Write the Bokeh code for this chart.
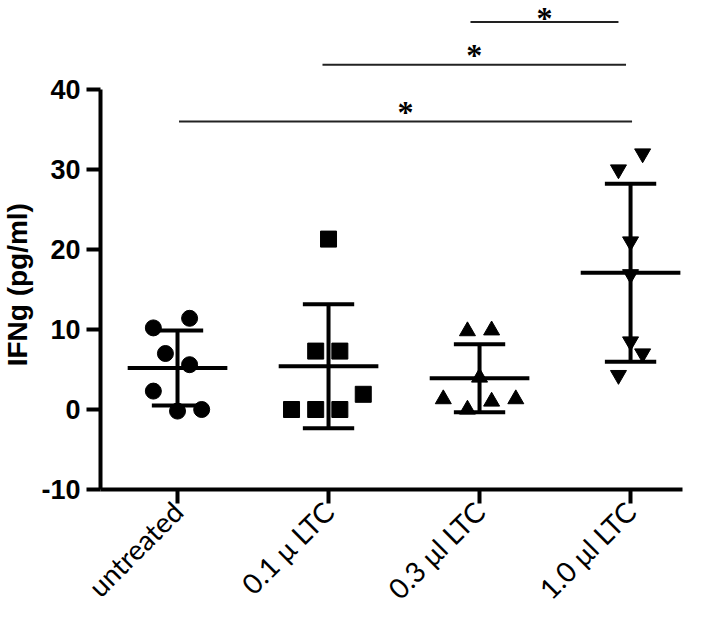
from math import pi
import numpy as np
from bokeh.plotting import figure
from bokeh.layouts import row
from bokeh.models import FixedTicker, Range1d, Label, LabelSet, ColumnDataSource
from bokeh.embed import file_html
from bokeh.resources import INLINE

# ---- data ----
categories = ["untreated", "0.1 \u03bc LTC", "0.3 \u03bcl LTC", "1.0 \u03bcl LTC"]
markers = ["circle", "square", "triangle", "inverted_triangle"]

untreated = [10.2, 11.4, 7.0, 5.6, 2.3, -0.2, 0.0]
untreated_jitter = [-0.16, 0.08, -0.08, 0.08, -0.16, 0.0, 0.16]

ltc_01 = [21.3, 7.3, 7.3, 1.9, 0.0, 0.0, 0.0]
ltc_01_jitter = [0.0, -0.085, 0.075, 0.23, -0.245, -0.085, 0.075]

ltc_03 = [9.8, 9.9, 4.0, 1.3, 1.0, 1.3, 0.0]
ltc_03_jitter = [-0.08, 0.08, 0.0, -0.24, 0.08, 0.24, -0.08]

ltc_10 = [32.0, 30.0, 21.0, 16.9, 8.5, 7.0, 4.3]
ltc_10_jitter = [0.08, -0.08, 0.0, 0.0, 0.0, 0.08, -0.08]

groups = [untreated, ltc_01, ltc_03, ltc_10]
jitters = [untreated_jitter, ltc_01_jitter, ltc_03_jitter, ltc_10_jitter]

y_ticks = [-10, 0, 10, 20, 30, 40]
y_tick_labels = ["-10", "0", "10", "20", "30", "40"]

# significance comparisons
comp_x0 = [0.01, 0.96, 1.94]
comp_x1 = [3.01, 2.97, 2.92]
comp_y = [36.0, 43.1, 48.45]
comp_star_y = [35.85, 42.9, 47.55]
comp_text = ["*", "*", "*"]

y_title = "IFNg (pg/ml)"
y_title_pos = 15.6

Y_RANGE = (-10, 51.125)
H = 622
BOTTOM = 133

# ---- main figure ----
p = figure(width=664, height=H, output_backend="svg", toolbar_location=None,
           x_range=Range1d(-0.51, 3.344), y_range=Range1d(*Y_RANGE),
           min_border_left=64, min_border_right=18, min_border_top=0, min_border_bottom=BOTTOM)
p.outline_line_color = None
p.grid.visible = False

p.xaxis.ticker = FixedTicker(ticks=list(range(len(categories))))
p.xaxis.major_label_overrides = {i: c for i, c in enumerate(categories)}
p.xaxis.major_label_orientation = pi / 4
p.xaxis.major_label_text_font = "Lato"
p.xaxis.major_label_text_font_size = "28px"
p.xaxis.major_label_text_color = "black"

p.yaxis.ticker = FixedTicker(ticks=y_ticks)
p.yaxis.major_label_overrides = {t: s for t, s in zip(y_ticks, y_tick_labels)}
p.yaxis.bounds = (min(y_ticks), max(y_ticks))
p.yaxis.major_label_text_font = "Liberation Sans"
p.yaxis.major_label_text_font_style = "bold"
p.yaxis.major_label_text_font_size = "27px"
p.yaxis.major_label_text_color = "black"

for ax in (p.xaxis, p.yaxis):
    ax.axis_line_width = 4
    ax.axis_line_color = "black"
    ax.major_tick_line_width = 4
    ax.major_tick_line_color = "black"
    ax.major_tick_out = 14
    ax.major_tick_in = 0
    ax.minor_tick_line_color = None
p.yaxis.major_label_standoff = 6
p.xaxis.major_label_standoff = 3

# ---- error bars (mean +/- SD) ----
xs = np.arange(len(groups))
means = np.array([np.mean(g) for g in groups])
sds = np.array([np.std(g, ddof=1) for g in groups])

p.segment(x0=xs, y0=means - sds, x1=xs, y1=means + sds, line_width=4, line_color="black")
p.segment(x0=xs - 0.17, y0=means + sds, x1=xs + 0.17, y1=means + sds, line_width=4, line_color="black")
p.segment(x0=xs - 0.17, y0=means - sds, x1=xs + 0.17, y1=means - sds, line_width=4, line_color="black")
p.segment(x0=xs - 0.33, y0=means, x1=xs + 0.33, y1=means, line_width=4, line_color="black")

# ---- points ----
for i, (g, j, m) in enumerate(zip(groups, jitters, markers)):
    src = ColumnDataSource(dict(x=[i + d for d in j], y=g))
    p.scatter("x", "y", source=src, marker=m, size=16, fill_color="black", line_color="black")

# ---- significance bars ----
p.segment(x0=comp_x0, y0=comp_y, x1=comp_x1, y1=comp_y, line_width=2, line_color="#222222")
star_src = ColumnDataSource(dict(x=[(a + b) / 2 for a, b in zip(comp_x0, comp_x1)], y=comp_star_y, t=comp_text))
p.add_layout(LabelSet(x="x", y="y", text="t", source=star_src, text_align="center",
                      text_baseline="alphabetic", text_font="Liberation Sans",
                      text_font_style="bold", text_font_size="32px", text_color="black"))

# ---- y axis title in a narrow side panel (frames are aligned by the row) ----
t_fig = figure(width=36, height=H, output_backend="svg", toolbar_location=None,
               x_range=Range1d(0, 36), y_range=Range1d(*Y_RANGE),
               min_border_left=0, min_border_right=0, min_border_top=0, min_border_bottom=BOTTOM)
t_fig.axis.visible = False
t_fig.grid.visible = False
t_fig.outline_line_color = None
t_fig.add_layout(Label(x=17, y=y_title_pos, text=y_title, angle=pi / 2, text_align="center",
                       text_baseline="middle", text_font="Liberation Sans", text_font_style="bold",
                       text_font_size="28px", text_color="black"))

layout = row(t_fig, p)
open("out.html", "w").write(file_html(layout, INLINE))
